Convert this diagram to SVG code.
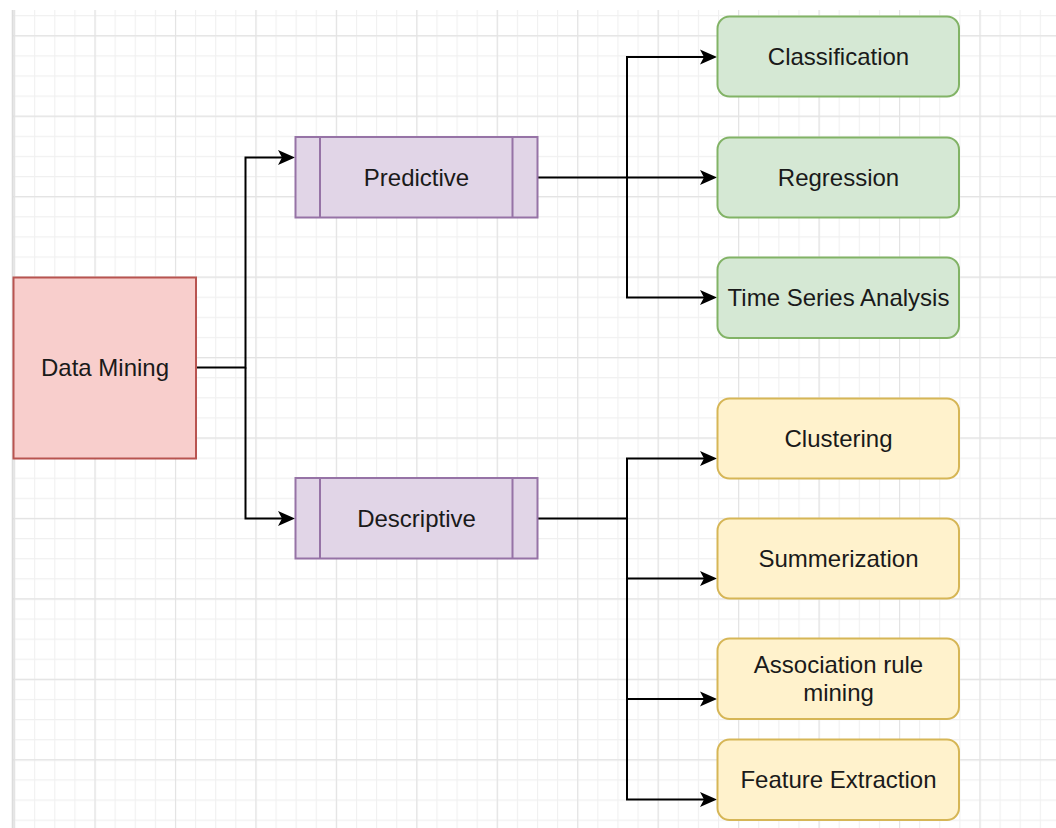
<svg xmlns="http://www.w3.org/2000/svg" width="1056" height="828" viewBox="0 0 1056 828">
  <defs>
    <!-- background grid: fine lines every 20.1px, heavier lines every 4th -->
    <pattern id="grid-minor" x="94.5" y="35.2" width="20.1125" height="20.1125" patternUnits="userSpaceOnUse">
      <path d="M0.5 0V20.1125M0 0.5H20.1125" fill="none" stroke="#f0f0f0" stroke-width="1.2"/>
    </pattern>
    <pattern id="grid-major" x="94.5" y="35.2" width="80.45" height="80.45" patternUnits="userSpaceOnUse">
      <path d="M0.5 0V80.45M0 0.5H80.45" fill="none" stroke="#e3e3e3" stroke-width="1.3"/>
    </pattern>
    <marker id="arrow" viewBox="-5 -9 20 18" refX="0" refY="0" markerWidth="20" markerHeight="18" markerUnits="userSpaceOnUse" orient="auto">
      <path d="M-4,-7.5 L13,0 L-4,7.5 L0,0 Z" fill="#000"/>
    </marker>
    <style>
      .label { font-family: "Liberation Sans", Arial, Helvetica, sans-serif; font-size: 24px; fill: #1a1a1a; text-anchor: middle; }
      .root { fill: #f8cecc; stroke: #b85450; stroke-width: 2; }
      .process { fill: #e1d5e7; stroke: #9673a6; stroke-width: 2; }
      .predict { fill: #d5e8d4; stroke: #82b366; stroke-width: 2; }
      .describe { fill: #fff2cc; stroke: #d6b656; stroke-width: 2; }
      .edge { fill: none; stroke: #000; stroke-width: 2; }
    </style>
  </defs>

  <rect width="1056" height="828" fill="#ffffff"/>
  <rect x="13" y="10" width="1043" height="818" fill="url(#grid-minor)"/>
  <rect x="13" y="10" width="1043" height="818" fill="url(#grid-major)"/>
  <line x1="12.7" y1="10" x2="12.7" y2="828" stroke="#dcdcdc" stroke-width="2"/>

  <!-- connectors -->
  <g id="connectors">
    <path class="edge" d="M196 367.5H245.5V157.5H282" marker-end="url(#arrow)"/>
    <path class="edge" d="M245.5 367.5V518.5H282" marker-end="url(#arrow)"/>
    <path class="edge" d="M537.5 177.5H627V57H704" marker-end="url(#arrow)"/>
    <path class="edge" d="M627 177.5H704" marker-end="url(#arrow)"/>
    <path class="edge" d="M627 177.5V297.5H704" marker-end="url(#arrow)"/>
    <path class="edge" d="M537.5 518.5H627V458.5H704" marker-end="url(#arrow)"/>
    <path class="edge" d="M627 518.5V578.5H704" marker-end="url(#arrow)"/>
    <path class="edge" d="M627 578.5V699H704" marker-end="url(#arrow)"/>
    <path class="edge" d="M627 699V799.5H704" marker-end="url(#arrow)"/>
  </g>

  <!-- root -->
  <g id="data-mining">
    <rect class="root" x="13.5" y="277.5" width="182.5" height="181"/>
    <text class="label" x="105" y="376">Data Mining</text>
  </g>

  <!-- categories -->
  <g id="predictive">
    <rect class="process" x="295.5" y="137" width="242" height="80.5"/>
    <path class="process" d="M320 137V217.5M512.5 137V217.5"/>
    <text class="label" x="416.5" y="186">Predictive</text>
  </g>
  <g id="descriptive">
    <rect class="process" x="295.5" y="478" width="242" height="80.5"/>
    <path class="process" d="M320 478V558.5M512.5 478V558.5"/>
    <text class="label" x="416.5" y="527">Descriptive</text>
  </g>

  <!-- predictive tasks -->
  <g id="classification">
    <rect class="predict" x="717.5" y="16.5" width="241.5" height="80" rx="12"/>
    <text class="label" x="838.5" y="65">Classification</text>
  </g>
  <g id="regression">
    <rect class="predict" x="717.5" y="137.5" width="241.5" height="80" rx="12"/>
    <text class="label" x="838.5" y="186">Regression</text>
  </g>
  <g id="time-series-analysis">
    <rect class="predict" x="717.5" y="257.5" width="241.5" height="80.5" rx="12"/>
    <text class="label" x="838.5" y="306">Time Series Analysis</text>
  </g>

  <!-- descriptive tasks -->
  <g id="clustering">
    <rect class="describe" x="717.5" y="398.5" width="241.5" height="80" rx="12"/>
    <text class="label" x="838.5" y="447">Clustering</text>
  </g>
  <g id="summerization">
    <rect class="describe" x="717.5" y="518.5" width="241.5" height="80" rx="12"/>
    <text class="label" x="838.5" y="567">Summerization</text>
  </g>
  <g id="association-rule-mining">
    <rect class="describe" x="717.5" y="638.5" width="241.5" height="80.5" rx="12"/>
    <text class="label" x="838.5" y="673">Association rule</text>
    <text class="label" x="838.5" y="701">mining</text>
  </g>
  <g id="feature-extraction">
    <rect class="describe" x="717.5" y="739.5" width="241.5" height="80.5" rx="12"/>
    <text class="label" x="838.5" y="788">Feature Extraction</text>
  </g>
</svg>
